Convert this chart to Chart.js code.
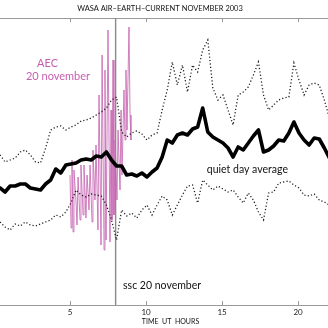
<!DOCTYPE html>
<html>
<head>
<meta charset="utf-8">
<script src="https://cdn.jsdelivr.net/npm/chart.js@4.4.1/dist/chart.umd.min.js"></script>
<style>
  html, body { margin: 0; padding: 0; background: #fff; }
</style>
</head>
<body>
<canvas id="chart" width="328" height="328"></canvas>
<script>
// air-earth current, arbitrary vertical units, time in UT hours
const SAMPLE_START = 0.395;
const SAMPLE_STEP = 1 / 3;

const QUIET_AVG = [117, 113, 119, 119, 121, 121, 117, 116, 115, 121, 125, 136, 132, 140, 141, 142,
  145, 146, 145, 149, 148, 153, 145, 139, 139, 130, 131, 129, 132, 128, 133, 137, 148, 165, 162, 170,
  172, 170, 176, 178, 197, 173, 168, 165, 162, 157, 148, 158, 155, 162, 169, 175, 153, 155, 159, 165,
  164, 172, 183, 172, 165, 160, 167, 166, 157, 147];

const QUIET_MAX = [150, 143, 145, 147, 153, 155, 150, 143, 142, 157, 175, 178, 179, 175, 178, 180,
  184, 185, 187, 190, 193, 197, 205, 208, 173, 168, 172, 174, 171, 165, 170, 172, 195, 215, 243, 220,
  240, 213, 240, 233, 255, 265, 217, 205, 210, 195, 180, 210, 213, 218, 230, 243, 210, 195, 200, 205,
  207, 208, 242, 225, 210, 220, 222, 220, 205, 187];

const QUIET_MIN = [83, 78, 75, 81, 79, 83, 80, 79, 81, 83, 85, 90, 88, 93, 102, 115, 110, 108, 111,
  110, 109, 100, 85, 65, 95, 89, 92, 87, 95, 100, 90, 100, 109, 105, 90, 100, 110, 119, 120, 102, 125,
  120, 115, 119, 116, 113, 115, 108, 102, 112, 105, 93, 85, 112, 113, 122, 123, 124, 120, 117, 110,
  109, 111, 105, 103, 100];

// 20 november record around the storm sudden commencement
const AEC_HOURS = [5.00, 5.07, 5.13, 5.20, 5.26, 5.39, 5.46, 5.53, 5.66, 5.72, 5.86, 5.92, 6.05,
  6.12, 6.25, 6.32, 6.45, 6.51, 6.64, 6.71, 6.84, 6.91, 7.04, 7.11, 7.24, 7.30, 7.37, 7.50, 7.63,
  7.70, 7.76, 7.83, 7.89, 7.96, 8.09, 8.16, 8.29, 8.36, 8.42, 8.55, 8.62, 8.68, 8.75, 8.88, 8.95, 9.01];
const AEC_20NOV = [130, 77, 145, 73, 135, 105, 80, 128, 85, 140, 90, 140, 87, 130, 95, 140, 83,
  155, 105, 160, 75, 210, 60, 250, 55, 235, 65, 275, 63, 195, 85, 245, 90, 165, 105, 175, 115, 195,
  130, 215, 165, 235, 175, 278, 190, 165];

const TICK_HOURS = [5, 10, 15, 20];
const SSC_HOUR = 8;

const FONT = 'Lato, "Liberation Sans", sans-serif';

function series(values) {
  return values.map((v, i) => ({ x: SAMPLE_START + i * SAMPLE_STEP, y: v }));
}

const decor = {
  id: 'decor',
  beforeDatasetsDraw(chart) {
    const { ctx, chartArea: a, scales: { x } } = chart;
    ctx.save();
    ctx.strokeStyle = '#9a9a9a';
    ctx.lineWidth = 1;
    ctx.beginPath();
    ctx.moveTo(a.left, a.top + 0.5);
    ctx.lineTo(a.right, a.top + 0.5);
    TICK_HOURS.forEach((h) => {
      const px = Math.round(x.getPixelForValue(h)) + 0.5;
      ctx.moveTo(px, a.top);
      ctx.lineTo(px, a.top + 4);
      ctx.moveTo(px, a.bottom);
      ctx.lineTo(px, a.bottom - 4);
    });
    ctx.stroke();

    // ssc marker
    const sx = x.getPixelForValue(SSC_HOUR);
    ctx.strokeStyle = '#8a8a8a';
    ctx.lineWidth = 1.4;
    ctx.beginPath();
    ctx.moveTo(sx, a.top);
    ctx.lineTo(sx, a.bottom);
    ctx.stroke();
    ctx.restore();
  },
  afterDraw(chart) {
    const { ctx, scales: { x, y } } = chart;
    ctx.save();
    ctx.textBaseline = 'middle';

    ctx.fillStyle = '#111';
    ctx.textAlign = 'center';
    ctx.font = '7.5px ' + FONT;
    ctx.fillText('WASA AIR\u2013EARTH\u2013CURRENT NOVEMBER 2003', 160, 9);
    ctx.font = '7px ' + FONT;
    ctx.fillText('TIME  UT  HOURS', 170.5, 322);

    ctx.fillStyle = '#c660ae';
    ctx.font = '11px ' + FONT;
    ctx.fillText('AEC', x.getPixelForValue(3.52), y.getPixelForValue(242));
    ctx.fillText('20 november', x.getPixelForValue(4.21), y.getPixelForValue(229));

    ctx.fillStyle = '#111';
    ctx.textAlign = 'left';
    ctx.font = '10.5px ' + FONT;
    ctx.fillText('quiet day average', x.getPixelForValue(14.0), y.getPixelForValue(135));
    ctx.fillText('ssc 20 november', x.getPixelForValue(8.49), y.getPixelForValue(19));
    ctx.restore();
  }
};

const chart = new Chart(document.getElementById('chart'), {
  type: 'line',
  data: {
    datasets: [
      {
        label: 'quiet day average',
        data: series(QUIET_AVG),
        borderColor: '#000',
        borderWidth: 3.6,
        borderJoinStyle: 'round',
        borderCapStyle: 'round',
      },
      {
        label: 'quiet day max',
        data: series(QUIET_MAX),
        borderColor: '#222',
        borderWidth: 1.3,
        borderDash: [1.2, 2.2],
      },
      {
        label: 'quiet day min',
        data: series(QUIET_MIN),
        borderColor: '#222',
        borderWidth: 1.3,
        borderDash: [1.2, 2.2],
      },
      {
        label: 'AEC 20 november',
        data: AEC_HOURS.map((h, i) => ({ x: h, y: AEC_20NOV[i] })),
        borderColor: 'rgba(200,105,180,0.85)',
        borderWidth: 1,
      },
    ],
  },
  options: {
    responsive: false,
    animation: false,
    devicePixelRatio: 1,
    layout: { padding: { top: 18, left: 0, right: 0, bottom: 7.4 } },
    elements: { point: { radius: 0 }, line: { tension: 0 } },
    plugins: { legend: { display: false }, tooltip: { enabled: false } },
    scales: {
      x: {
        type: 'linear',
        min: 0.395,
        max: 21.97,
        afterBuildTicks: (scale) => {
          scale.ticks = TICK_HOURS.map((v) => ({ value: v }));
        },
        border: { display: true, color: '#9a9a9a', width: 1 },
        grid: { display: false, drawTicks: false },
        ticks: {
          font: { size: 8, family: FONT },
          color: '#222',
          padding: 3,
          maxRotation: 0,
          autoSkip: false,
        },
      },
      y: { display: false, min: 0, max: 287 },
    },
  },
  plugins: [decor],
});
</script>
</body>
</html>
